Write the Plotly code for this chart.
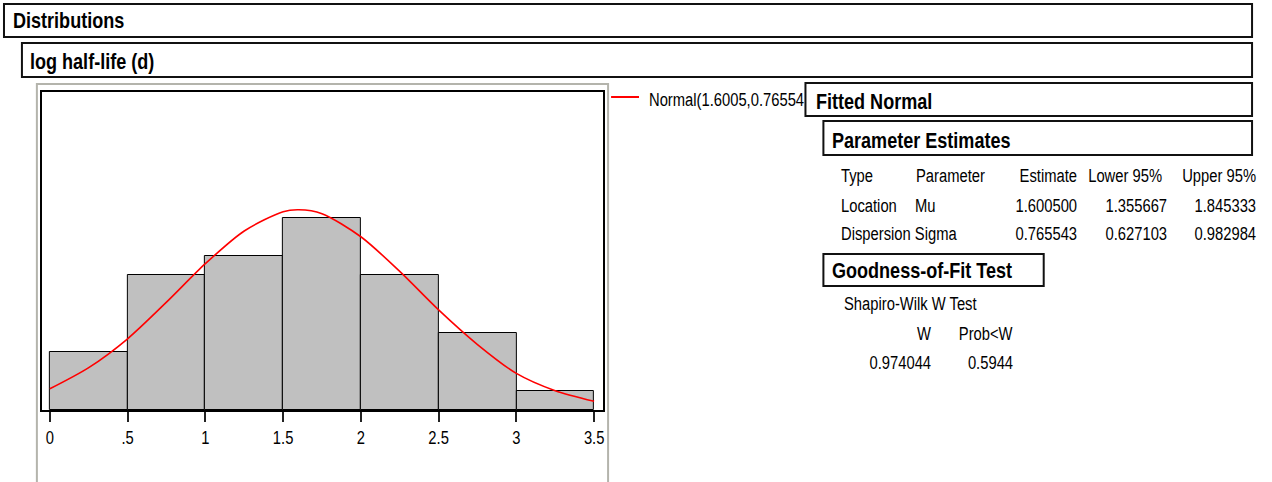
import plotly.graph_objects as go

# ---------------- data ----------------
bin_edges = [0, 0.5, 1.0, 1.5, 2.0, 2.5, 3.0, 3.5]
counts = [3, 7, 8, 10, 7, 4, 1]

curve_x = [0, 0.25, 0.5, 0.75, 1.0, 1.25, 1.5, 1.6, 1.75, 2.0, 2.25, 2.5, 2.75, 3.0, 3.25, 3.5]
curve_y = [1.1, 2.2, 3.7, 5.6, 7.6, 9.3, 10.3, 10.4, 10.2, 9.0, 7.2, 5.2, 3.4, 1.9, 1.0, 0.45]

tick_vals = [0, 0.5, 1.0, 1.5, 2.0, 2.5, 3.0, 3.5]
tick_text = ["0", ".5", "1", "1.5", "2", "2.5", "3", "3.5"]

legend_label = "Normal(1.6005,0.76554"

pe_header = ["Type", "Parameter", "Estimate", "Lower 95%", "Upper 95%"]
pe_types = ["Location", "Dispersion"]
pe_params = ["Mu", "Sigma"]
pe_estimate = ["1.600500", "0.765543"]
pe_lower = ["1.355667", "0.627103"]
pe_upper = ["1.845333", "0.982984"]

gof_title = "Shapiro-Wilk W Test"
gof_header = ["W", "Prob<W"]
gof_values = ["0.974044", "0.5944"]

# ---------------- layout helpers ----------------
W, H = 1272, 482
FONT = "Liberation Sans, Arial, sans-serif"
NARROW = 0.82   # horizontal compression of the glyphs (Arial Narrow look)


def px(x):
    return x / W


def py(y):
    return 1 - y / H


bar_x = [(a + b) / 2 for a, b in zip(bin_edges[:-1], bin_edges[1:])]
bar_w = [b - a for a, b in zip(bin_edges[:-1], bin_edges[1:])]

fig = go.Figure()
fig.add_trace(go.Bar(
    x=bar_x, y=counts, width=bar_w,
    marker=dict(color="#c0c0c0", line=dict(color="#000000", width=1)),
    showlegend=False, hoverinfo="skip",
))
fig.add_trace(go.Scatter(
    x=curve_x, y=curve_y, mode="lines",
    line=dict(color="#ff0000", width=1.6, shape="spline", smoothing=0.8),
    showlegend=False, hoverinfo="skip",
))

shapes = []
annotations = []


def box(x0, y0, x1, y1, color="#111111", width=2):
    shapes.append(dict(type="rect", xref="paper", yref="paper",
                       x0=px(x0), x1=px(x1), y0=py(y1), y1=py(y0),
                       line=dict(color=color, width=width),
                       fillcolor="rgba(0,0,0,0)", layer="above"))


def text(x, y, s, size=18, bold=False, anchor="left"):
    x = x + (1 if anchor == "left" else 3)
    annotations.append(dict(xref="paper", yref="paper", x=px(x), y=py(y),
                            text=s, showarrow=False, xanchor=anchor, align=anchor,
                            yanchor="middle", borderpad=0, borderwidth=0,
                            font=dict(family=FONT, size=size, color="#000000",
                                      weight="bold" if bold else "normal")))


# header boxes
box(4, 4, 1256, 37)
text(12, 21, "Distributions", 22, True)
box(22, 43, 1256, 77)
text(29, 61, "log half-life (d)", 22, True)

# gray frame around histogram
box(37, 84, 610, 500, color="#b4b4ac", width=2)

# legend
shapes.append(dict(type="line", xref="paper", yref="paper",
                   x0=px(613), x1=px(641), y0=py(97), y1=py(97),
                   line=dict(color="#ff0000", width=2)))
text(650, 100, legend_label, 18)

# Fitted Normal report
box(808, 83, 1256, 116)
text(818, 101, "Fitted Normal", 22, True)
box(826, 121, 1256, 155)
text(834, 140, "Parameter Estimates", 22, True)

row_y = [176, 206, 234]
text(843, row_y[0], pe_header[0])
text(918, row_y[0], pe_header[1])
text(1077, row_y[0], pe_header[2], anchor="right")
text(1163, row_y[0], pe_header[3], anchor="right")
text(1257, row_y[0], pe_header[4], anchor="right")
for i in range(2):
    yy = row_y[i + 1]
    if i == 0:
        text(843, yy, pe_types[i])
        text(917, yy, pe_params[i])
    else:
        # "Dispersion" runs straight into "Sigma" in the report
        text(843, yy, pe_types[i] + " " + pe_params[i])
    text(1077, yy, pe_estimate[i], anchor="right")
    text(1168, yy, pe_lower[i], anchor="right")
    text(1257, yy, pe_upper[i], anchor="right")

box(826, 254, 1047, 286)
text(834, 270, "Goodness-of-Fit Test", 22, True)
text(846, 304, gof_title)
text(931, 334, gof_header[0], anchor="right")
text(1013, 334, gof_header[1], anchor="right")
text(931, 363, gof_values[0], anchor="right")
text(1013, 363, gof_values[1], anchor="right")

# axis ranges from pixel geometry: 0 at x=50, 156 px per unit
x0_px, unit_px = 50, 156
xr = [(42 - x0_px) / unit_px, (605 - x0_px) / unit_px]
yr = [0, (410 - 92) / 19.25]

fig.update_layout(
    width=W, height=H, autosize=False,
    margin=dict(l=0, r=0, t=0, b=0),
    paper_bgcolor="#ffffff", plot_bgcolor="#ffffff",
    bargap=0,
    shapes=shapes, annotations=annotations,
    xaxis=dict(domain=[px(42), px(605)], range=xr, showgrid=False, zeroline=False,
               showline=True, linecolor="#000000", linewidth=2, mirror=True,
               ticks="outside", ticklen=10, tickwidth=2, tickcolor="#222222",
               tickvals=tick_vals, ticktext=tick_text,
               tickfont=dict(family=FONT, size=18, color="#000000")),
    yaxis=dict(domain=[py(410), py(92)], range=yr, showgrid=False, zeroline=False,
               showline=True, linecolor="#000000", linewidth=2, mirror=True,
               showticklabels=False, ticks=""),
)

# compress glyphs horizontally to mimic the narrow report font,
# and shrink each annotation's background box to the compressed width
post = """
var gd = document.getElementById('{plot_id}');
var k = %s;
gd.querySelectorAll('g.annotation').forEach(function(g){
  var t = g.querySelector('text.annotation-text');
  if (!t) return;
  var L = t.getComputedTextLength();
  if (!(L > 0)) return;
  var nL = L * k;
  t.setAttribute('textLength', nL.toFixed(2));
  t.setAttribute('lengthAdjust', 'spacingAndGlyphs');
  var anchor = t.getAttribute('text-anchor');
  g.querySelectorAll('rect').forEach(function(r){
    var w = parseFloat(r.getAttribute('width'));
    if (!(w > 0)) return;
    var x = parseFloat(r.getAttribute('x') || 0);
    var d = L - nL;
    if (anchor === 'end') { r.setAttribute('x', (x + d).toFixed(2)); }
    else if (anchor === 'middle') { r.setAttribute('x', (x + d / 2).toFixed(2)); }
    r.setAttribute('width', Math.max(0, w - d).toFixed(2));
  });
});
gd.querySelectorAll('g.xtick text').forEach(function(t){
  var L = t.getComputedTextLength();
  if (L > 0) {
    t.setAttribute('textLength', (L * k).toFixed(2));
    t.setAttribute('lengthAdjust', 'spacingAndGlyphs');
  }
});
""" % NARROW

fig.write_html("out.html", post_script=post)
